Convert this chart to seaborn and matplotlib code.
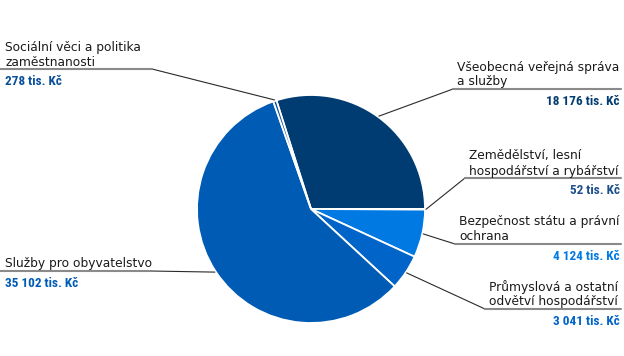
import numpy as np
import matplotlib
matplotlib.use('Agg')
import matplotlib.pyplot as plt
import seaborn as sns

sns.set_theme(style='white')
plt.rcParams['font.family'] = ['DejaVu Sans']

# data
categories = ['Všeobecná veřejná správa\na služby',
              'Zemědělství, lesní\nhospodářství a rybářství',
              'Bezpečnost státu a právní\nochrana',
              'Průmyslová a ostatní\nodvětví hospodářství',
              'Služby pro obyvatelstvo',
              'Sociální věci a politika\nzaměstnanosti']
values = [18176, 52, 4124, 3041, 35102, 278]
value_labels = ['18 176 tis. Kč', '52 tis. Kč', '4 124 tis. Kč',
                '3 041 tis. Kč', '35 102 tis. Kč', '278 tis. Kč']
colors = ['#003c71', '#1d4f8c', '#0079e3', '#0064c8', '#005bb5', '#0a4f9a']

# layout (pixel coords, y from top): elbow of the leader line and side
elbows = [(453, 89), (465, 178), (455, 244), (485, 309), (150, 271), (152, 69)]
sides = ['right', 'right', 'right', 'right', 'left', 'left']

W, H = 624, 356
Y = lambda py: H - py
cx, cy, r = 311, 209, 114
val_font = ['Roboto Condensed', 'Liberation Sans Narrow', 'Roboto', 'DejaVu Sans']

fig = plt.figure(figsize=(W / 100, H / 100), dpi=100)
ax = fig.add_axes([0, 0, 1, 1])

total = sum(values)
wedges, _ = ax.pie(values, colors=colors, center=(cx, Y(cy)), radius=r,
                   counterclock=False, startangle=360 * values[0] / total,
                   wedgeprops=dict(edgecolor='white', linewidth=1.3))
ax.set_xlim(0, W)
ax.set_ylim(0, H)
ax.set_aspect('equal')
ax.axis('off')

for w, cat, val, col, (ex, ey), side in zip(wedges, categories, value_labels,
                                             colors, elbows, sides):
    mid = np.deg2rad((w.theta1 + w.theta2) / 2)
    sx = cx + (r + 1) * np.cos(mid)
    sy = Y(cy) + (r + 1) * np.sin(mid)
    ax.plot([sx, ex], [sy, Y(ey)], color='#2a2a2a', lw=0.8, zorder=3)
    if side == 'right':
        ax.plot([ex, 621], [Y(ey), Y(ey)], color='#8a8a8a', lw=1.5, zorder=3)
        tx, vx, ha = ex + 4, 620, 'right'
    else:
        ax.plot([0, ex], [Y(ey), Y(ey)], color='#8a8a8a', lw=1.5, zorder=3)
        tx, vx, ha = 5, 5, 'left'
    lines = cat.split('\n')
    if len(lines) == 2:
        ax.text(tx, Y(ey - 18.5), lines[0], ha='left', va='baseline',
                fontsize=8.8, color='#1a1a1a')
    ax.text(tx, Y(ey - 3.5), lines[-1], ha='left', va='baseline',
            fontsize=8.8, color='#1a1a1a')
    ax.text(vx, Y(ey + 16), val, ha=ha, va='baseline', fontsize=9.5,
            fontweight='bold', color=col, family=val_font)

fig.savefig('out.png', dpi=100)
